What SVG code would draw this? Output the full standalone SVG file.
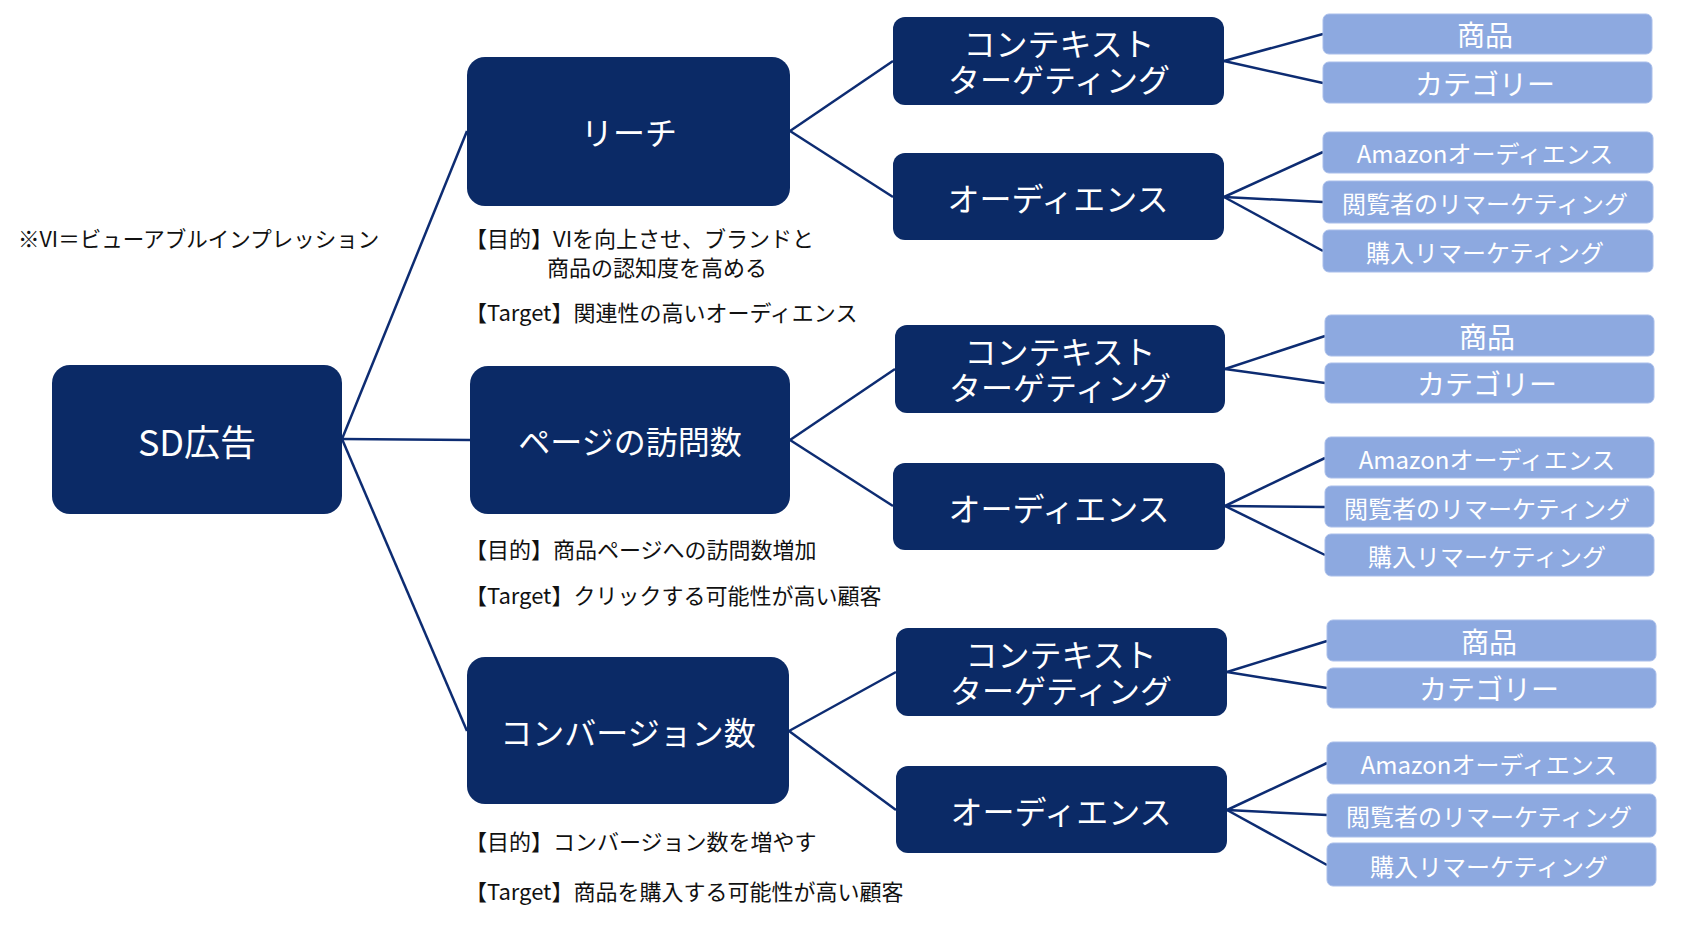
<svg xmlns="http://www.w3.org/2000/svg" width="1694" height="929" viewBox="0 0 1694 929">
<style>
.dark{fill:#0B2A66;}
.light{fill:#8DA9E0;stroke:#A9BEEA;stroke-width:1;}
.t{font-family:"Noto Sans CJK JP","Noto Sans",sans-serif;fill:#FFFFFF;text-anchor:middle;dominant-baseline:central;}
.big{font-size:32px;}
.huge{font-size:36px;}
.mid{font-size:32px;}
.sm1{font-size:28px;}
.sm2{font-size:24px;}
.note{font-family:"Noto Sans CJK JP","Noto Sans",sans-serif;font-size:22px;fill:#111111;dominant-baseline:central;}
.c{stroke:#0D2C72;stroke-width:2.5;fill:none;}
</style>
<rect width="1694" height="929" fill="#FFFFFF"/>
<g id="connectors">
<line class="c" x1="342" y1="439" x2="467" y2="131"/>
<line class="c" x1="342" y1="439" x2="470" y2="440"/>
<line class="c" x1="342" y1="439" x2="467" y2="731"/>
<line class="c" x1="790" y1="131" x2="893" y2="61"/>
<line class="c" x1="790" y1="131" x2="893" y2="197"/>
<line class="c" x1="790" y1="440" x2="895" y2="369"/>
<line class="c" x1="790" y1="440" x2="893" y2="506"/>
<line class="c" x1="789" y1="731" x2="896" y2="672"/>
<line class="c" x1="789" y1="731" x2="896" y2="810"/>
<line class="c" x1="1224" y1="61" x2="1323" y2="34"/>
<line class="c" x1="1224" y1="61" x2="1323" y2="83"/>
<line class="c" x1="1224" y1="197" x2="1323" y2="152"/>
<line class="c" x1="1224" y1="197" x2="1323" y2="202"/>
<line class="c" x1="1224" y1="197" x2="1323" y2="251"/>
<line class="c" x1="1225" y1="369" x2="1325" y2="336"/>
<line class="c" x1="1225" y1="369" x2="1325" y2="383"/>
<line class="c" x1="1225" y1="506" x2="1325" y2="458"/>
<line class="c" x1="1225" y1="506" x2="1325" y2="507"/>
<line class="c" x1="1225" y1="506" x2="1325" y2="555"/>
<line class="c" x1="1227" y1="672" x2="1327" y2="641"/>
<line class="c" x1="1227" y1="672" x2="1327" y2="688"/>
<line class="c" x1="1227" y1="810" x2="1327" y2="763"/>
<line class="c" x1="1227" y1="810" x2="1327" y2="815"/>
<line class="c" x1="1227" y1="810" x2="1327" y2="865"/>
</g>
<g id="sd">
<rect class="dark" x="52" y="365" width="290" height="149" rx="18"/>
<text class="t huge" x="197" y="440">SD広告</text>
</g>
<g id="reach">
<rect class="dark" x="467" y="57" width="323" height="149" rx="18"/>
<text class="t big" x="629" y="131">リーチ</text>
</g>
<g id="visits">
<rect class="dark" x="470" y="366" width="320" height="148" rx="18"/>
<text class="t big" x="630" y="440">ページの訪問数</text>
</g>
<g id="conversions">
<rect class="dark" x="467" y="657" width="322" height="147" rx="18"/>
<text class="t big" x="628" y="731">コンバージョン数</text>
</g>
<g id="context1">
<rect class="dark" x="893" y="17" width="331" height="88" rx="12"/>
<text class="t mid" x="1059" y="42"><tspan x="1059" y="42">コンテキスト</tspan><tspan x="1059" y="78">ターゲティング</tspan></text>
</g>
<g id="audience1">
<rect class="dark" x="893" y="153" width="331" height="87" rx="12"/>
<text class="t mid" x="1058" y="197">オーディエンス</text>
</g>
<g id="context2">
<rect class="dark" x="895" y="325" width="330" height="88" rx="12"/>
<text class="t mid" x="1060" y="350"><tspan x="1060" y="350">コンテキスト</tspan><tspan x="1060" y="386">ターゲティング</tspan></text>
</g>
<g id="audience2">
<rect class="dark" x="893" y="463" width="332" height="87" rx="12"/>
<text class="t mid" x="1059" y="507">オーディエンス</text>
</g>
<g id="context3">
<rect class="dark" x="896" y="628" width="331" height="88" rx="12"/>
<text class="t mid" x="1061" y="653"><tspan x="1061" y="653">コンテキスト</tspan><tspan x="1061" y="689">ターゲティング</tspan></text>
</g>
<g id="audience3">
<rect class="dark" x="896" y="766" width="331" height="87" rx="12"/>
<text class="t mid" x="1061" y="810">オーディエンス</text>
</g>
<g id="g1-product">
<rect class="light" x="1323" y="14" width="329" height="40" rx="6"/>
<text class="t sm1" x="1485" y="34">商品</text>
</g>
<g id="g1-category">
<rect class="light" x="1323" y="62" width="329" height="41" rx="6"/>
<text class="t sm1" x="1485" y="83">カテゴリー</text>
</g>
<g id="g1-amazon">
<rect class="light" x="1323" y="132" width="330" height="41" rx="6"/>
<text class="t sm2" x="1485" y="152">Amazonオーディエンス</text>
</g>
<g id="g1-viewer">
<rect class="light" x="1323" y="181" width="330" height="42" rx="6"/>
<text class="t sm2" x="1485" y="202">閲覧者のリマーケティング</text>
</g>
<g id="g1-purchase">
<rect class="light" x="1323" y="230" width="330" height="42" rx="6"/>
<text class="t sm2" x="1485" y="251">購入リマーケティング</text>
</g>
<g id="g2-product">
<rect class="light" x="1325" y="315" width="329" height="41" rx="6"/>
<text class="t sm1" x="1487" y="336">商品</text>
</g>
<g id="g2-category">
<rect class="light" x="1325" y="363" width="329" height="40" rx="6"/>
<text class="t sm1" x="1487" y="383">カテゴリー</text>
</g>
<g id="g2-amazon">
<rect class="light" x="1325" y="437" width="329" height="41" rx="6"/>
<text class="t sm2" x="1487" y="458">Amazonオーディエンス</text>
</g>
<g id="g2-viewer">
<rect class="light" x="1325" y="486" width="329" height="41" rx="6"/>
<text class="t sm2" x="1487" y="507">閲覧者のリマーケティング</text>
</g>
<g id="g2-purchase">
<rect class="light" x="1325" y="534" width="329" height="42" rx="6"/>
<text class="t sm2" x="1487" y="555">購入リマーケティング</text>
</g>
<g id="g3-product">
<rect class="light" x="1327" y="620" width="329" height="41" rx="6"/>
<text class="t sm1" x="1489" y="641">商品</text>
</g>
<g id="g3-category">
<rect class="light" x="1327" y="668" width="329" height="40" rx="6"/>
<text class="t sm1" x="1489" y="688">カテゴリー</text>
</g>
<g id="g3-amazon">
<rect class="light" x="1327" y="742" width="329" height="42" rx="6"/>
<text class="t sm2" x="1489" y="763">Amazonオーディエンス</text>
</g>
<g id="g3-viewer">
<rect class="light" x="1327" y="794" width="329" height="43" rx="6"/>
<text class="t sm2" x="1489" y="815">閲覧者のリマーケティング</text>
</g>
<g id="g3-purchase">
<rect class="light" x="1327" y="843" width="329" height="43" rx="6"/>
<text class="t sm2" x="1489" y="865">購入リマーケティング</text>
</g>
<g id="notes">
<text class="note" x="18" y="237" style="font-size:21.5px">※VI＝ビューアブルインプレッション</text>
<text class="note" x="465" y="237"><tspan x="465" y="237">【目的】VIを向上させ、ブランドと</tspan><tspan x="547" y="266">商品の認知度を高める</tspan></text>
<text class="note" x="465" y="311">【Target】関連性の高いオーディエンス</text>
<text class="note" x="465" y="548">【目的】商品ページへの訪問数増加</text>
<text class="note" x="465" y="594">【Target】クリックする可能性が高い顧客</text>
<text class="note" x="465" y="840">【目的】コンバージョン数を増やす</text>
<text class="note" x="465" y="890">【Target】商品を購入する可能性が高い顧客</text>
</g>
</svg>
